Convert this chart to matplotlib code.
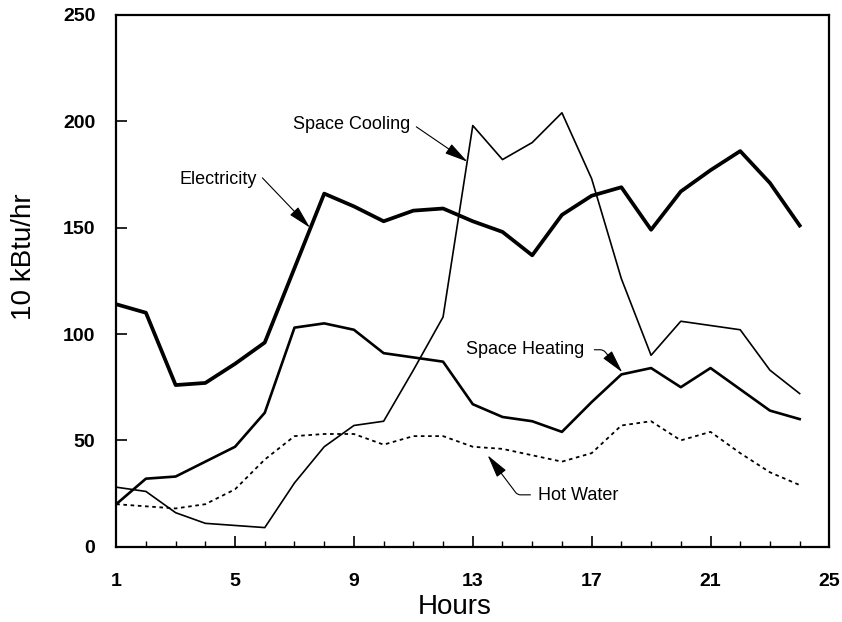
import numpy as np
import matplotlib
matplotlib.use("Agg")
import matplotlib.pyplot as plt
from matplotlib.ticker import MultipleLocator

plt.rcParams['font.family'] = ['Liberation Sans', 'DejaVu Sans']

hours = list(range(1, 25))

electricity = [114, 110, 76, 77, 86, 96, 131, 166, 160, 153, 158, 159,
               153, 148, 137, 156, 165, 169, 149, 167, 177, 186, 171, 151]
space_cooling = [28, 26, 16, 11, 10, 9, 30, 47, 57, 59, 83, 108,
                 198, 182, 190, 204, 173, 126, 90, 106, 104, 102, 83, 72]
space_heating = [20, 32, 33, 40, 47, 63, 103, 105, 102, 91, 89, 87,
                 67, 61, 59, 54, 68, 81, 84, 75, 84, 74, 64, 60]
hot_water = [20, 19, 18, 20, 27, 41, 52, 53, 53, 48, 52, 52,
             47, 46, 43, 40, 44, 57, 59, 50, 54, 44, 35, 29]

x_ticks = [1, 5, 9, 13, 17, 21, 25]
y_ticks = [0, 50, 100, 150, 200, 250]

fig = plt.figure(figsize=(8.42, 6.22), dpi=100)
ax = fig.add_axes([0.138, 0.121, 0.847, 0.855])

ax.plot(hours, electricity, color='black', linewidth=2.7)
ax.plot(hours, space_cooling, color='black', linewidth=1.2)
ax.plot(hours, space_heating, color='black', linewidth=1.9)
ax.plot(hours, hot_water, color='black', linewidth=1.3, linestyle=(0, (2, 2)))

ax.set_xlim(1, 25)
ax.set_ylim(0, 250)
ax.set_xticks(x_ticks)
ax.set_yticks(y_ticks)
ax.xaxis.set_minor_locator(MultipleLocator(1))
ax.tick_params(axis='both', which='major', direction='in', length=8, width=1.2,
               labelsize=14)
ax.tick_params(axis='x', which='major', pad=19)
ax.tick_params(axis='y', which='major', pad=15)
ax.tick_params(axis='x', which='minor', direction='in', length=4, width=1)
for lab in ax.get_xticklabels() + ax.get_yticklabels():
    lab.set_fontweight('bold')
for s in ax.spines.values():
    s.set_linewidth(1.6)

ax.set_xlabel('Hours', fontsize=20)
ax.xaxis.set_label_coords(0.475, -0.088)
ax.set_ylabel('10 kBtu/hr', fontsize=20)
ax.yaxis.set_label_coords(-0.111, 0.545)

head = '-|>,head_length=0.9,head_width=0.22'
arrow = dict(arrowstyle=head, color='black', lw=0.8, mutation_scale=16,
             shrinkA=0, shrinkB=0)
fs = 13

# labels with their arrows
ax.text(10.9, 198.3, 'Space Cooling', fontsize=fs, ha='right', va='center')
ax.annotate('', xy=(12.82, 181), xytext=(11.1, 197.4), arrowprops=arrow)

ax.text(5.75, 172.5, 'Electricity', fontsize=fs, ha='right', va='center')
ax.annotate('', xy=(7.52, 150), xytext=(5.92, 173.4), arrowprops=arrow)

ax.text(16.76, 92.6, 'Space Heating', fontsize=fs, ha='right', va='center')
ax.annotate('', xy=(18.03, 82), xytext=(17.09, 92.6),
            arrowprops=dict(arrow, connectionstyle='angle,angleA=0,angleB=130,rad=3'))

ax.text(15.18, 24.0, 'Hot Water', fontsize=fs, ha='left', va='center')
ax.annotate('', xy=(13.5, 43), xytext=(14.94, 24.4),
            arrowprops=dict(arrow, connectionstyle='angle,angleA=0,angleB=127,rad=3'))

fig.savefig('out.png', dpi=100)
